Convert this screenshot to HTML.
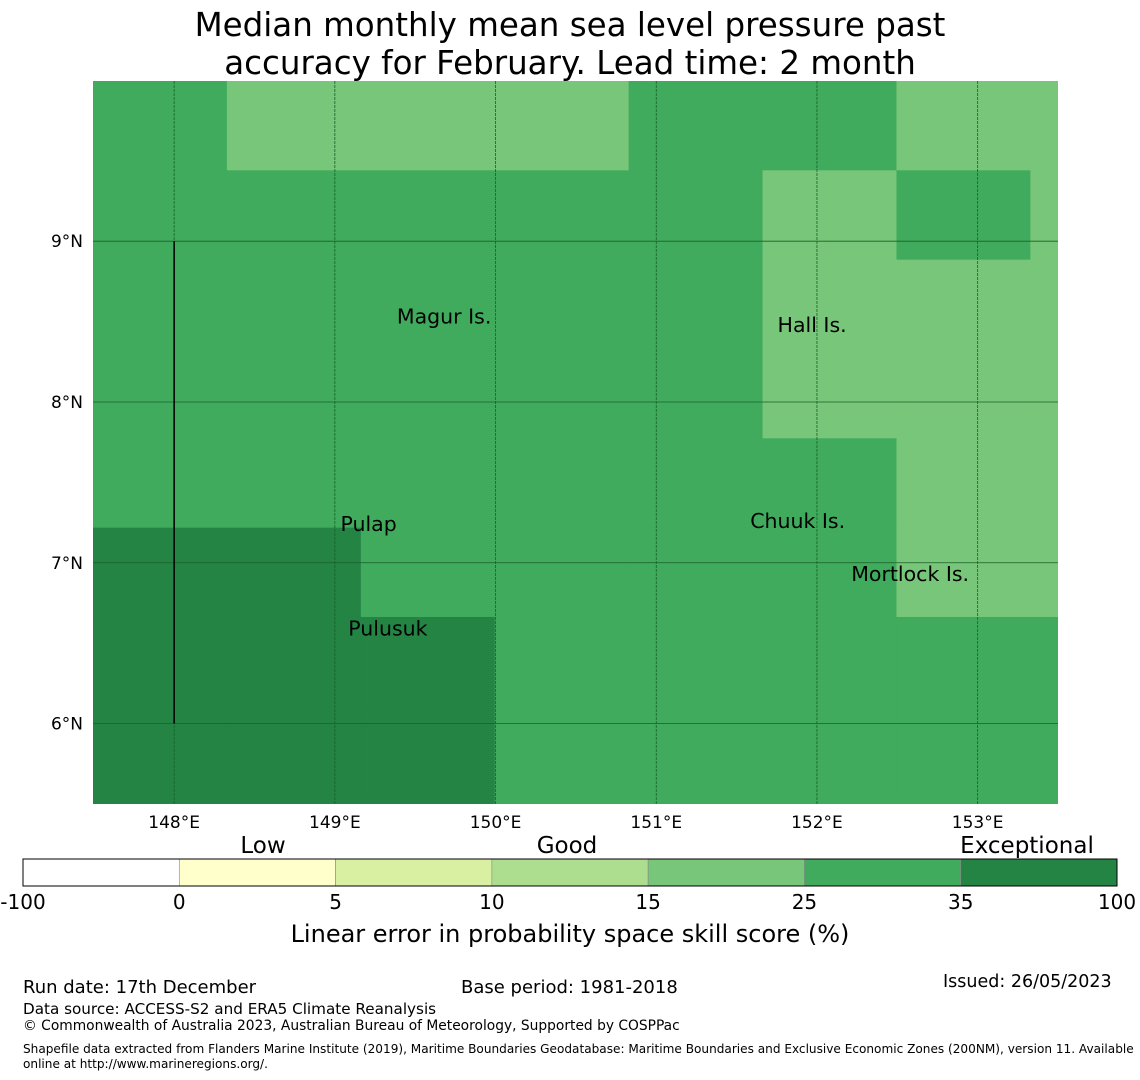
<!DOCTYPE html>
<html><head><meta charset="utf-8">
<style>
body{margin:0;background:#fff;font-family:"DejaVu Sans","Liberation Sans",sans-serif;}
#wrap{position:relative;width:1140px;height:1080px;overflow:hidden;}
.t{position:absolute;white-space:nowrap;color:#000;}
</style></head>
<body>
<div id="wrap">
<div class="t" style="left:0;width:1140px;top:6px;text-align:center;font-size:32.5px;line-height:38px;">Median monthly mean sea level pressure past<br>accuracy for February. Lead time: 2 month</div>
<svg id="map" width="1140" height="1080" style="position:absolute;left:0;top:0"></svg>
<div class="t" style="left:23px;top:977px;font-size:18px;">Run date: 17th December</div>
<div class="t" style="left:461px;top:977px;font-size:18px;">Base period: 1981-2018</div>
<div class="t" style="left:943px;top:972px;font-size:17.5px;">Issued: 26/05/2023</div>
<div class="t" style="left:23px;top:1000px;font-size:15.2px;">Data source: ACCESS-S2 and ERA5 Climate Reanalysis</div>
<div class="t" style="left:23px;top:1018px;font-size:13.8px;">© Commonwealth of Australia 2023, Australian Bureau of Meteorology, Supported by COSPPac</div>
<div class="t" style="left:23px;top:1042px;font-size:12.1px;line-height:15px;">Shapefile data extracted from Flanders Marine Institute (2019), Maritime Boundaries Geodatabase: Maritime Boundaries and Exclusive Economic Zones (200NM), version 11. Available<br>online at http://www.marineregions.org/.</div>
</div>
<script>
const lonTicks=[148,149,150,151,152,153];
const latTicks=[9,8,7,6];
// skill score grid, rows top->bottom, cols left->right
const cellValues=[
[30,20,20,20,30,30,20,20],
[30,30,30,30,30,20,30,20],
[30,30,30,30,30,20,20,20],
[30,30,30,30,30,20,20,20],
[30,30,30,30,30,30,20,20],
[50,50,30,30,30,30,20,20],
[50,50,50,30,30,30,30,30],
[50,50,50,30,30,30,30,30],
[50,50,50,30,30,30,30,30]];
const cbBounds=[-100,0,5,10,15,25,35,100];
const cbColors=["#ffffff","#ffffcc","#d9f0a3","#addd8e","#78c679","#41ab5d","#238443"];
const cbCategories=[["Low",263],["Good",567],["Exceptional",1027]];
const places=[["Magur Is.",149.68,8.53],["Hall Is.",151.97,8.48],["Pulap",149.21,7.24],["Chuuk Is.",151.88,7.26],["Mortlock Is.",152.58,6.93],["Pulusuk",149.33,6.59]];
const lon0=147.495,lon1=153.5,lat0=9.996,lat1=5.5;
const X0=93,X1=1058,Y0=81,Y1=804;
const xs=l=>X0+(l-lon0)/(lon1-lon0)*(X1-X0);
const ys=l=>Y0+(lat0-l)/(lat0-lat1)*(Y1-Y0);
const cellW=0.8333,cellH=0.5555;
function color(v){for(let i=0;i<cbColors.length;i++){if(v<cbBounds[i+1])return cbColors[i];}return cbColors[cbColors.length-1];}
const svg=document.getElementById('map');const NS="http://www.w3.org/2000/svg";
function mk(t,a,p){const e=document.createElementNS(NS,t);for(const k in a)e.setAttribute(k,a[k]);(p||svg).appendChild(e);return e;}
const clip=mk('clipPath',{id:'c'});mk('rect',{x:X0,y:Y0,width:X1-X0,height:Y1-Y0},clip);
const g=mk('g',{'clip-path':'url(#c)'});
cellValues.forEach((row,r)=>row.forEach((v,c)=>{
 const x=xs(lon0+c*cellW),y=ys(lat0-r*cellH);
 const e=mk('rect',{x:x,y:y,width:xs(lon0+(c+1)*cellW)-x+0.5,height:ys(lat0-(r+1)*cellH)-y+0.5,fill:color(v)},g);
 
 
}));
lonTicks.forEach(l=>{const x=xs(l);
 const e=mk('line',{x1:x,x2:x,y1:Y0,y2:Y1,stroke:'#1b5e2a',"stroke-width":0.8,"stroke-dasharray":"3,1"});
 
 const t=mk('text',{x:x,y:Y1+24,"text-anchor":"middle","font-size":17});t.textContent=l+"°E";
 });
latTicks.forEach(l=>{const y=ys(l);
 const e=mk('line',{x1:X0,x2:X1,y1:y,y2:y,stroke:'#1b5e2a',"stroke-width":0.8});
 
 const t=mk('text',{x:X0-10,y:y+6,"text-anchor":"end","font-size":17});t.textContent=l+"°N";
 });
const bl=mk('line',{x1:xs(148),x2:xs(148),y1:ys(9),y2:ys(6),stroke:'#000',"stroke-width":1.5});

places.forEach(p=>{const t=mk('text',{x:xs(p[1]),y:ys(p[2])+7,"text-anchor":"middle","font-size":20.5});t.textContent=p[0];
 });
// colorbar
const CB0=23,CB1=1117,CBy=859,CBh=27,seg=(CB1-CB0)/cbColors.length;
cbColors.forEach((c,i)=>{const e=mk('rect',{x:CB0+i*seg,y:CBy,width:seg,height:CBh,fill:c,stroke:'#888',"stroke-width":0.6});
 });
mk('rect',{x:CB0,y:CBy,width:CB1-CB0,height:CBh,fill:'none',stroke:'#000',"stroke-width":1});
cbBounds.forEach((b,i)=>{const t=mk('text',{x:CB0+i*seg,y:CBy+CBh+23,"text-anchor":"middle","font-size":20});t.textContent=b;
 });
cbCategories.forEach(c=>{const t=mk('text',{x:c[1],y:853,"text-anchor":"middle","font-size":23});t.textContent=c[0];
 });
const ct=mk('text',{x:570,y:942,"text-anchor":"middle","font-size":24});ct.textContent="Linear error in probability space skill score (%)";

</script>
</body></html>
